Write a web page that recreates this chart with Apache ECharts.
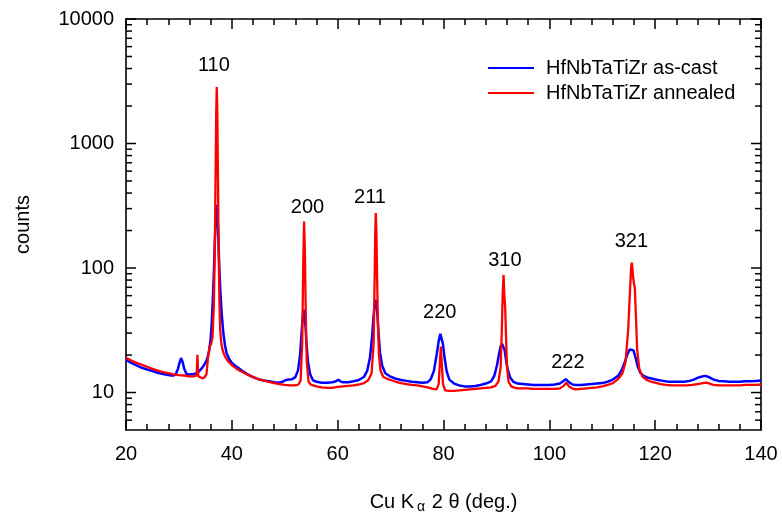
<!DOCTYPE html>
<html>
<head>
<meta charset="utf-8">
<script src="https://cdn.jsdelivr.net/npm/echarts@6/dist/echarts.min.js"></script>
<style>
  html, body { margin: 0; padding: 0; background: #fff; overflow: hidden; }
  #chart { width: 782px; height: 517px; }
</style>
</head>
<body>
<div id="chart"></div>
<script>
// X-ray diffraction patterns of HfNbTaTiZr (Cu K-alpha), counts on a log scale.

const asCastTheta = [20,21,22,23,24,25,26,27,28,28.5,29,29.4,29.8,30.1,30.4,30.7,31.0,31.4,31.8,32.3,32.8,33.3,33.8,34.3,34.7,35.1,35.4,35.7,36.0,36.2,36.4,36.6,36.8,37.0,37.15,37.3,37.5,37.7,37.9,38.1,38.4,38.7,39.0,39.5,40,41,42,43,44,45,46,47,48,49,49.6,50.2,50.8,51.4,52,52.5,52.9,53.2,53.4,53.55,53.7,53.9,54.1,54.4,54.8,55.3,56,57,58,59,59.7,60.1,60.5,61,62,63,64,65,65.6,66.1,66.5,66.8,67.0,67.15,67.3,67.5,67.7,68.0,68.4,69,70,71,72,73,74,75,76,77,77.6,78.2,78.7,79.1,79.4,79.6,79.9,80.2,80.6,81.1,82,83,84,85,86,87,88,89,89.6,90.1,90.5,90.8,91.05,91.3,91.55,91.8,92.1,92.6,93.2,94,95,96,97,98,99,100,101,102,102.6,103.1,103.4,103.8,104.4,105,106,107,108,109,110,111,112,113,113.7,114.3,114.8,115.2,115.55,115.9,116.3,116.7,117.2,117.8,118.5,119.5,120.5,121.5,122.5,123.5,124.5,125.5,126.5,127.3,128,128.7,129.4,130,130.6,131.3,132,133,134,135,136,137,138,139,140];
const asCastCounts = [18.3,17.3,16.5,15.8,15.3,14.9,14.4,14.1,13.8,13.7,13.7,14.0,15.4,17.2,18.9,17.6,15.5,14.2,13.9,14.0,14.1,14.3,14.8,15.6,16.5,17.6,19.0,21.5,27,36,55,90,170,280,322,270,150,85,58,42,30,24,20.8,18.6,17.3,16.0,14.9,14.0,13.3,12.8,12.5,12.3,12.1,12.0,12.2,12.6,12.7,12.8,13.3,15.0,20,31,41,46,44,35,25,17.5,14,12.6,12.2,12.0,12.0,12.1,12.3,12.7,12.3,12.1,12.1,12.3,12.6,13.4,15.0,19,28,42,52,55.5,53,43,31,21,16.5,14.3,13.4,12.9,12.6,12.4,12.2,12.1,12.0,12.1,12.8,15,20,26,29.6,29.0,24.5,19,14.8,12.7,11.8,11.4,11.2,11.2,11.3,11.5,11.8,12.3,13.6,16.5,20.5,23.5,24.6,24.2,22,18.5,15.5,13.2,12.2,11.8,11.7,11.6,11.5,11.5,11.5,11.5,11.6,11.8,12.3,12.8,12.6,12.0,11.6,11.5,11.5,11.6,11.7,11.8,11.9,12.2,12.7,13.6,15.2,17.8,20.5,22.2,22.7,21.8,19,16.2,14.4,13.6,13.2,12.9,12.6,12.4,12.2,12.2,12.2,12.2,12.4,12.7,13.1,13.4,13.6,13.4,13.0,12.6,12.4,12.3,12.2,12.2,12.2,12.3,12.3,12.4,12.5];

const annealedTheta = [20,21,22,23,24,25,26,27,28,29,30,31,32,32.8,33.35,33.5,33.65,34.0,34.4,34.8,35.2,35.5,35.8,36.1,36.35,36.6,36.8,36.95,37.05,37.15,37.25,37.35,37.5,37.65,37.8,38.0,38.3,38.7,39.2,40,41,42,43,44,45,46,47,48,49,50,51,52,52.6,53.0,53.3,53.5,53.65,53.8,53.95,54.15,54.5,55,56,57,58,59,60,61,62,63,64,65,65.8,66.4,66.8,67.0,67.1,67.2,67.32,67.45,67.6,67.8,68.1,68.6,69.5,70,71,72,73,74,75,76,77,78,78.7,79.1,79.35,79.5,79.65,79.9,80.3,81,82,83,84,85,86,87,88,89,89.8,90.4,90.8,91.05,91.2,91.35,91.5,91.65,91.8,92.0,92.3,92.8,93.5,94,95,96,97,98,99,100,101,102,102.7,103.2,103.7,104.5,105,106,107,108,109,110,111,112,113,113.8,114.4,114.9,115.2,115.45,115.6,115.8,116.0,116.15,116.35,116.6,117,117.6,118.3,119,120,121,122,123,124,125,126,127,128,129,129.6,130.3,131,132,133,134,135,136,137,138,139,140];
const annealedCounts = [19.0,18.1,17.3,16.7,16.1,15.5,15.0,14.6,14.3,14.0,13.8,13.7,13.5,13.5,13.7,20.1,13.5,13.2,13.0,13.2,14.0,19,23.5,24.5,28,50,160,700,1800,2840,1900,700,150,55,32,25,21.5,19.5,18.0,16.6,15.4,14.6,13.9,13.3,12.8,12.5,12.2,11.9,11.7,11.5,11.4,11.4,11.6,12.5,25,110,236,140,50,18,12.2,11.5,11.2,11.0,10.9,10.9,11.1,11.2,11.3,11.4,11.6,11.9,12.6,14.2,25,90,190,276,190,85,38,20,15,13.4,12.8,12.6,12.2,11.9,11.7,11.5,11.4,11.2,11.0,10.7,10.6,11.8,18.5,23.4,18,11.8,10.4,10.3,10.3,10.4,10.5,10.6,10.7,10.8,10.9,11.0,11.3,12.3,16,35,65,88,60,49,30,16,12.2,11.2,10.9,10.8,10.8,10.8,10.7,10.7,10.7,10.7,10.7,10.8,11.3,12.0,11.2,10.7,10.6,10.7,10.8,10.9,11.0,11.2,11.5,11.9,12.8,14.2,17.5,32,60,100,110.7,88,74,70,42,22,15.5,13.4,12.7,12.3,12.0,11.7,11.5,11.4,11.4,11.4,11.4,11.5,11.7,11.9,12.0,11.8,11.5,11.4,11.4,11.4,11.4,11.4,11.5,11.5,11.5,11.6];

// Miller-index annotations placed above the reflections (2θ, counts)
const peakNames = ['110', '200', '211', '220', '310', '222', '321'];
const peakLabelTheta = [36.6, 54.3, 66.1, 79.3, 91.6, 103.5, 115.5];
const peakLabelCounts = [4240, 304, 370, 44.1, 114.7, 17.5, 162];

// y-axis decades and the 2..9 subdivisions between them
const yMajorTicks = [10, 100, 1000, 10000];
const yMinorTicks = [6, 7, 8, 9, 20, 30, 40, 50, 60, 70, 80, 90, 200, 300, 400, 500, 600, 700, 800, 900, 2000, 3000, 4000, 5000, 6000, 7000, 8000, 9000];

const seriesNames = ['HfNbTaTiZr as-cast', 'HfNbTaTiZr annealed'];

const FONT = '"Liberation Sans", Arial, Helvetica, sans-serif';
const INK = '#000';
const MAJOR_LEN = 10;
const MINOR_LEN = 6;

const zip = (xs, ys) => xs.map((x, i) => [x, ys[i]]);

const tickData = yMajorTicks.map(v => [20, v, 1]).concat(yMinorTicks.map(v => [20, v, 0]));

const chart = echarts.init(document.getElementById('chart'), null, { renderer: 'canvas', width: 782, height: 517 });

const xAxisBase = {
  type: 'value',
  min: 20,
  max: 140,
  interval: 20,
  axisLine: { show: true, onZero: false, lineStyle: { color: INK, width: 1.6 } },
  axisTick: { show: true, inside: true, length: MAJOR_LEN, lineStyle: { color: INK, width: 1.5 } },
  minorTick: { show: true, splitNumber: 5, length: MINOR_LEN, lineStyle: { color: INK, width: 1.5 } },
  splitLine: { show: false },
  minorSplitLine: { show: false }
};

const yAxisBase = {
  type: 'log',
  logBase: 10,
  min: 5,
  max: 10000,
  axisLine: { show: true, onZero: false, lineStyle: { color: INK, width: 1.6 } },
  axisTick: { show: false },
  minorTick: { show: false },
  splitLine: { show: false }
};

chart.setOption({
  animation: false,
  backgroundColor: '#fff',
  textStyle: { fontFamily: FONT },
  grid: { left: 126, right: 21, top: 19, bottom: 87, containLabel: false, outerBoundsMode: 'none' },
  legend: {
    data: seriesNames,
    orient: 'vertical',
    left: 488,
    top: 58,
    padding: 0,
    icon: 'rect',
    itemWidth: 46,
    itemHeight: 2,
    itemGap: 5,
    textStyle: { fontFamily: FONT, fontSize: 20, color: INK, padding: [0, 0, 0, 7] }
  },
  xAxis: [
    Object.assign({}, xAxisBase, {
      position: 'bottom',
      axisLabel: { show: true, margin: 14, fontFamily: FONT, fontSize: 20, color: INK },
      name: '{n|Cu K}{s|α}{n| 2 θ (deg.)}',
      nameLocation: 'middle',
      nameGap: 60,
      nameTextStyle: {
        fontFamily: FONT,
        color: INK,
        rich: {
          n: { fontFamily: FONT, fontSize: 20, color: INK, lineHeight: 24 },
          s: { fontFamily: FONT, fontSize: 14, color: INK, verticalAlign: 'bottom', lineHeight: 8, padding: [0, 1, 0, 3] }
        }
      }
    }),
    Object.assign({}, xAxisBase, {
      position: 'top',
      axisLabel: { show: false }
    })
  ],
  yAxis: [
    Object.assign({}, yAxisBase, {
      position: 'left',
      axisLabel: {
        show: true,
        margin: 12,
        fontFamily: FONT,
        fontSize: 20,
        color: INK,
        formatter: v => {
          const l = Math.log10(v);
          return Math.abs(l - Math.round(l)) < 1e-6 ? String(Math.round(v)) : '';
        }
      },
      name: 'counts',
      nameLocation: 'middle',
      nameRotate: 90,
      nameGap: 93,
      nameTextStyle: { fontFamily: FONT, fontSize: 20, color: INK }
    }),
    Object.assign({}, yAxisBase, {
      position: 'right',
      axisLabel: { show: false }
    })
  ],
  series: [
    {
      name: seriesNames[0],
      type: 'line',
      xAxisIndex: 0,
      yAxisIndex: 0,
      data: zip(asCastTheta, asCastCounts),
      color: '#0000ff',
      showSymbol: false,
      symbol: 'none',
      lineStyle: { color: '#0000ff', width: 2.5 },
      z: 3
    },
    {
      name: seriesNames[1],
      type: 'line',
      xAxisIndex: 0,
      yAxisIndex: 0,
      data: zip(annealedTheta, annealedCounts),
      color: '#ff0000',
      showSymbol: false,
      symbol: 'none',
      lineStyle: { color: '#ff0000', width: 2.3 },
      z: 4
    },
    {
      name: 'reflections',
      type: 'scatter',
      xAxisIndex: 0,
      yAxisIndex: 0,
      symbolSize: 0,
      silent: true,
      itemStyle: { opacity: 1 },
      data: peakNames.map((n, i) => ({ name: n, value: [peakLabelTheta[i], peakLabelCounts[i]] })),
      label: {
        show: true,
        position: 'inside',
        formatter: '{b}',
        fontFamily: FONT,
        fontSize: 20,
        color: INK,
        opacity: 1
      },
      z: 5
    },
    {
      name: 'y ticks',
      type: 'custom',
      xAxisIndex: 0,
      yAxisIndex: 0,
      silent: true,
      clip: false,
      data: tickData,
      renderItem: (params, api) => {
        const cs = params.coordSys;
        const y = api.coord([20, api.value(1)])[1];
        const len = api.value(2) ? MAJOR_LEN : MINOR_LEN;
        const style = { stroke: INK, lineWidth: 1.5 };
        return {
          type: 'group',
          children: [
            { type: 'line', shape: { x1: cs.x, y1: y, x2: cs.x + len, y2: y }, style },
            { type: 'line', shape: { x1: cs.x + cs.width - len, y1: y, x2: cs.x + cs.width, y2: y }, style }
          ]
        };
      },
      z: 6
    }
  ]
});
</script>
</body>
</html>
